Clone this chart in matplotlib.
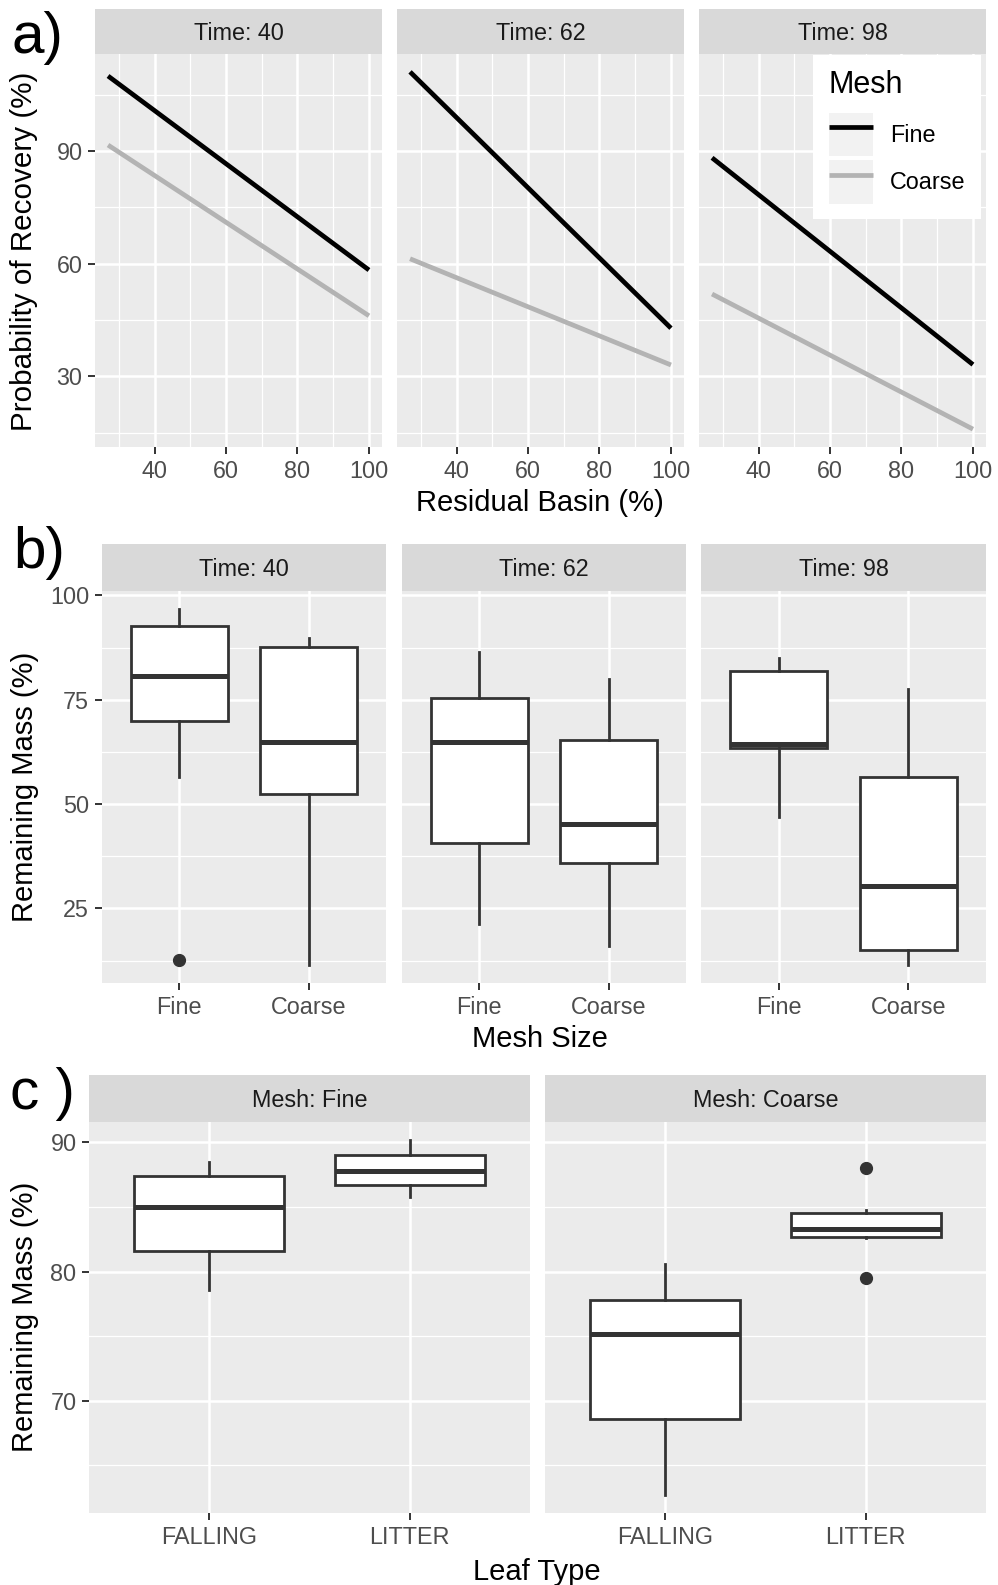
import numpy as np
import matplotlib.pyplot as plt
from matplotlib.patches import Rectangle
from matplotlib.lines import Line2D
from matplotlib.legend_handler import HandlerLine2D
from matplotlib.ticker import FixedLocator

plt.rcParams['font.family'] = ['Liberation Sans', 'DejaVu Sans']

# ---- data ----
# a) fitted probability of recovery at both ends of the residual basin range
times = [40, 62, 98]
basin = [27, 100]
fine_recovery = [[110.0, 58.3], [111.1, 42.8], [88.2, 33.1]]
coarse_recovery = [[91.6, 46.1], [61.3, 33.0], [51.9, 15.9]]

# b) remaining mass by mesh size, one row per time
mesh = ['Fine', 'Coarse']
mass_whislo = [[56.5, 11.4], [21.2, 16.0], [47.0, 11.4]]
mass_q1 = [[69.8, 52.5], [40.7, 35.9], [63.4, 15.1]]
mass_med = [[80.8, 64.8], [65.0, 45.2], [64.4, 30.4]]
mass_q3 = [[92.8, 87.7], [75.4, 65.3], [81.9, 56.4]]
mass_whishi = [[96.8, 89.8], [86.4, 80.1], [84.9, 77.5]]
mass_fliers = [[[12.7], []], [[], []], [[], []]]

# c) remaining mass by leaf type, one row per mesh
leaf = ['FALLING', 'LITTER']
leaf_whislo = [[78.6, 85.8], [62.7, 82.6]]
leaf_q1 = [[81.6, 86.7], [68.6, 82.7]]
leaf_med = [[85.0, 87.8], [75.2, 83.3]]
leaf_q3 = [[87.4, 89.0], [77.8, 84.5]]
leaf_whishi = [[88.5, 90.2], [80.6, 84.8]]
leaf_fliers = [[[], []], [[], [88.0, 79.5]]]

# ---- style ----
W, H = 998, 1585
BG = '#EBEBEB'
STRIP = '#D9D9D9'
DARK = '#333333'
TICKTXT = '#4D4D4D'
BASE = 21
SMALL = 16.8


def box(x0, y0, x1, y1):
    return [x0 / W, 1 - y1 / H, (x1 - x0) / W, (y1 - y0) / H]


def expand(values, mult=0.05):
    lo, hi = min(values), max(values)
    pad = (hi - lo) * mult
    return lo - pad, hi + pad


class KeyHandler(HandlerLine2D):
    # ggplot style legend key: grey square behind the line
    def create_artists(self, legend, orig_handle, xdescent, ydescent,
                       width, height, fontsize, trans):
        arts = super().create_artists(legend, orig_handle, xdescent, ydescent,
                                      width, height, fontsize, trans)
        bg = Rectangle((-xdescent, -ydescent), width, height,
                       facecolor='#F2F2F2', edgecolor='none', transform=trans)
        return [bg] + list(arts)


def panel(fig, x0, y0, x1, y1, strip_y0, label, show_y):
    ax = fig.add_axes(box(x0, y0, x1, y1))
    ax.set_facecolor(BG)
    for s in ax.spines.values():
        s.set_visible(False)
    ax.set_axisbelow(True)
    ax.grid(True, which='major', color='white', lw=1.8)
    ax.grid(True, which='minor', color='white', lw=0.9)
    ax.tick_params(which='major', length=5, width=1.4, color=DARK,
                   labelsize=SMALL, labelcolor=TICKTXT, pad=4)
    ax.tick_params(which='minor', length=0)
    if not show_y:
        ax.tick_params(axis='y', which='both', length=0, labelleft=False)

    sax = fig.add_axes(box(x0, strip_y0, x1, y0))
    sax.set_facecolor(STRIP)
    sax.set_xticks([])
    sax.set_yticks([])
    for s in sax.spines.values():
        s.set_visible(False)
    sax.text(0.5, 0.45, label, ha='center', va='center', fontsize=SMALL,
             color='#1A1A1A', transform=sax.transAxes)
    return ax


def boxes(ax, lo, q1, med, q3, hi, fl):
    stats = []
    for i in range(len(med)):
        stats.append(dict(whislo=lo[i], q1=q1[i], med=med[i], q3=q3[i],
                          whishi=hi[i], fliers=fl[i]))
    ax.bxp(stats, positions=[1, 2], widths=0.75, showcaps=False,
           patch_artist=True,
           boxprops=dict(facecolor='white', edgecolor=DARK, linewidth=2.0),
           medianprops=dict(color=DARK, linewidth=3.6, solid_capstyle='butt'),
           whiskerprops=dict(color=DARK, linewidth=2.0),
           flierprops=dict(marker='o', markerfacecolor=DARK,
                           markeredgecolor=DARK, markersize=8.5))
    ax.set_xlim(0.4, 2.6)


fig = plt.figure(figsize=(W / 100, H / 100), dpi=100)

# ---- row a ----
a_x = [(95, 382), (397, 684), (699, 986)]
a_ylim = expand(sum(fine_recovery, []) + sum(coarse_recovery, []))
a_xlim = expand(basin)
for i, t in enumerate(times):
    ax = panel(fig, a_x[i][0], 54, a_x[i][1], 447, 9, f'Time: {t}', i == 0)
    ax.plot(basin, fine_recovery[i], color='black', lw=3.4,
            solid_capstyle='butt', label='Fine')
    ax.plot(basin, coarse_recovery[i], color='#B3B3B3', lw=3.4,
            solid_capstyle='butt', label='Coarse')
    ax.set_xlim(*a_xlim)
    ax.set_ylim(*a_ylim)
    ax.set_xticks([40, 60, 80, 100])
    ax.set_yticks([30, 60, 90])
    ax.xaxis.set_minor_locator(FixedLocator([30, 50, 70, 90]))
    ax.yaxis.set_minor_locator(FixedLocator([15, 45, 75, 105]))
    if i == 2:
        leg = ax.legend(loc='upper right', bbox_to_anchor=(1 - 5 / 287, 1 - 1 / 393),
                        borderaxespad=0, title='Mesh', fontsize=SMALL,
                        title_fontsize=22, alignment='left',
                        frameon=True, fancybox=False, framealpha=1,
                        handlelength=1.9, handleheight=2.5, labelspacing=0.17,
                        handletextpad=0.75, borderpad=0.65,
                        handler_map={Line2D: KeyHandler(marker_pad=0.12)})
        leg.get_frame().set_facecolor('white')
        leg.get_frame().set_edgecolor('none')
        # a bit more room between the title and the keys
        leg._legend_box.sep = 9

# ---- row b ----
b_x = [(101.7, 386.5), (401.5, 686.3), (701.3, 986)]
b_all = sum(mass_whislo, []) + sum(mass_whishi, []) + [v for r in mass_fliers for f in r for v in f]
b_ylim = expand(b_all)
for i, t in enumerate(times):
    ax = panel(fig, b_x[i][0], 591, b_x[i][1], 983, 544, f'Time: {t}', i == 0)
    boxes(ax, mass_whislo[i], mass_q1[i], mass_med[i], mass_q3[i],
          mass_whishi[i], mass_fliers[i])
    ax.set_xticks([1, 2])
    ax.set_xticklabels(mesh)
    ax.set_ylim(*b_ylim)
    ax.set_yticks([25, 50, 75, 100])
    ax.yaxis.set_minor_locator(FixedLocator([12.5, 37.5, 62.5, 87.5]))

# ---- row c ----
c_x = [(89, 530), (545, 986)]
c_all = sum(leaf_whislo, []) + sum(leaf_whishi, []) + [v for r in leaf_fliers for f in r for v in f]
c_ylim = expand(c_all)
for i, m in enumerate(mesh):
    ax = panel(fig, c_x[i][0], 1122, c_x[i][1], 1513, 1075, f'Mesh: {m}', i == 0)
    boxes(ax, leaf_whislo[i], leaf_q1[i], leaf_med[i], leaf_q3[i],
          leaf_whishi[i], leaf_fliers[i])
    ax.set_xticks([1, 2])
    ax.set_xticklabels(leaf)
    ax.set_ylim(*c_ylim)
    ax.set_yticks([70, 80, 90])
    ax.yaxis.set_minor_locator(FixedLocator([65, 75, 85]))

# ---- axis titles and panel letters ----
fig.text(540 / W, 1 - 503 / H, 'Residual Basin (%)', ha='center', va='center', fontsize=BASE)
fig.text(24 / W, 1 - 251 / H, 'Probability of Recovery (%)', ha='center', va='center',
         rotation=90, fontsize=21.3)
fig.text(540 / W, 1 - 1039 / H, 'Mesh Size', ha='center', va='center', fontsize=BASE)
fig.text(25 / W, 1 - 787 / H, 'Remaining Mass (%)', ha='center', va='center',
         rotation=90, fontsize=BASE)
fig.text(537 / W, 1 - 1572 / H, 'Leaf Type', ha='center', va='center', fontsize=BASE)
fig.text(25 / W, 1 - 1317 / H, 'Remaining Mass (%)', ha='center', va='center',
         rotation=90, fontsize=BASE)

fig.text(12 / W, 1 - 38 / H, 'a)', ha='left', va='center', fontsize=42)
fig.text(13 / W, 1 - 553 / H, 'b)', ha='left', va='center', fontsize=42)
fig.text(10 / W, 1 - 1094 / H, 'c )', ha='left', va='center', fontsize=42)

fig.savefig('out.png', dpi=100)
